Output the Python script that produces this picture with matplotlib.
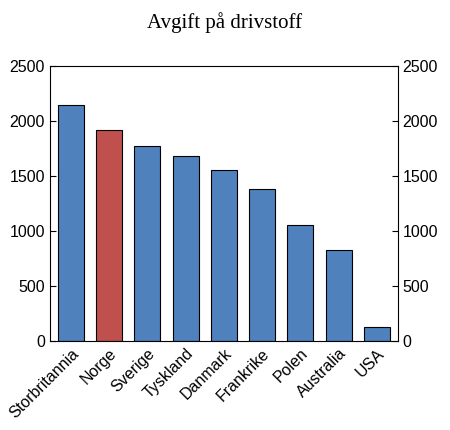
import matplotlib.pyplot as plt
import numpy as np

countries = ["Storbritannia", "Norge", "Sverige", "Tyskland", "Danmark",
             "Frankrike", "Polen", "Australia", "USA"]
values = [2140, 1920, 1770, 1685, 1550, 1380, 1055, 825, 125]
colors = ["#4f81bd", "#c0504d"] + ["#4f81bd"] * 7

plt.rcParams['font.family'] = ['Liberation Sans', 'DejaVu Sans']

fig = plt.figure(figsize=(4.5, 4.3), dpi=100)
ax = fig.add_axes([0.111, 0.207, 0.773, 0.640])
x = np.arange(len(countries))
ax.bar(x, values, width=0.68, color=colors, edgecolor="black", linewidth=0.8)
ax.set_xlim(-0.55, len(countries) - 0.45)
ax.set_ylim(0, 2500)
ax.set_yticks(range(0, 2501, 500))
ax.tick_params(axis="y", direction="in", labelsize=11.5, right=True, labelright=True, length=4)
ax.set_xticks(x)
ax.set_xticklabels(countries, rotation=45, ha="right", rotation_mode="anchor", fontsize=11.5)
ax.tick_params(axis="x", length=0)
fig.text(0.5, 0.935, "Avgift på drivstoff", ha="center", fontsize=15,
         family="Liberation Serif")
fig.savefig("out.png")
